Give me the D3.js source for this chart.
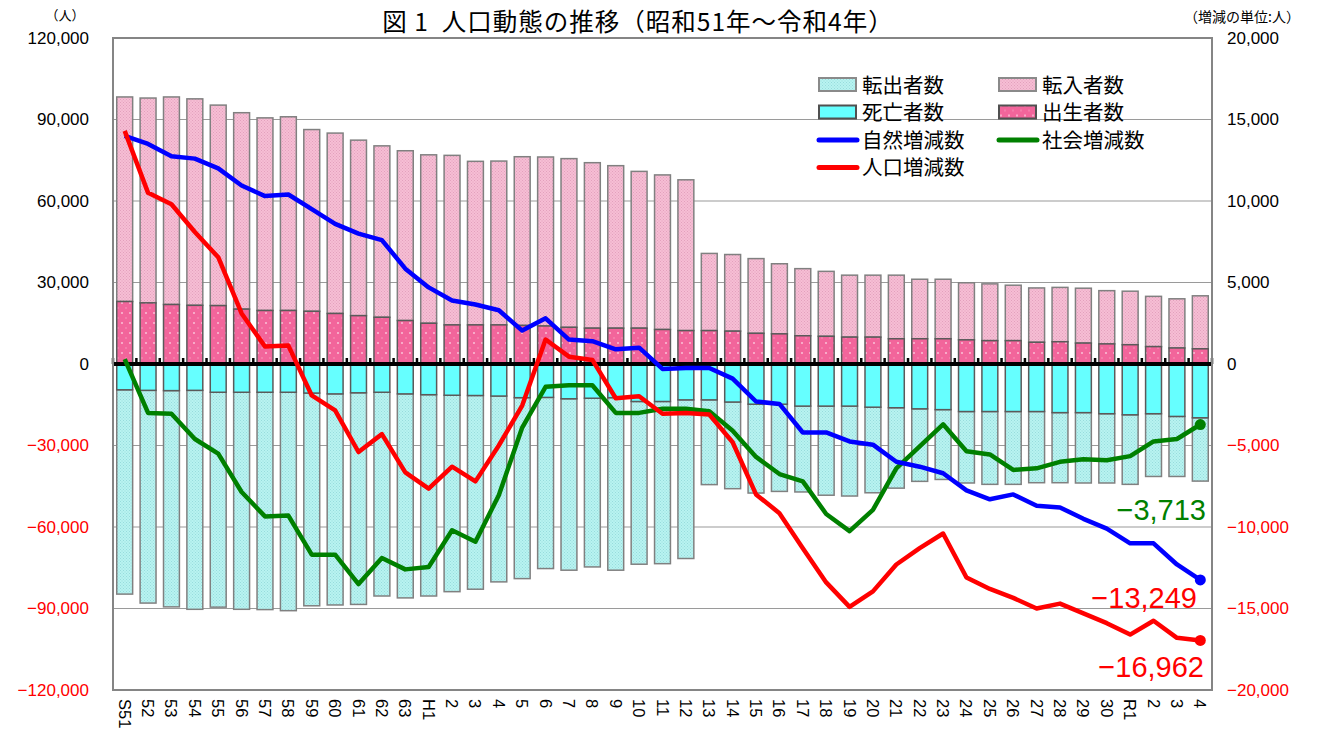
<!DOCTYPE html>
<html>
<head>
<meta charset="utf-8">
<script src="https://cdn.jsdelivr.net/npm/d3@7"></script>
<style>
  body { margin: 0; background: #fff; }
  svg text { font-family: "Liberation Sans", "Noto Sans CJK JP", sans-serif; }
  .jp { font-family: "Noto Sans CJK JP", sans-serif; }
</style>
</head>
<body>
<svg width="1318" height="729"></svg>
<script>
// 年（S51〜R4）
var years = ["S51","52","53","54","55","56","57","58","59","60","61","62","63",
  "H1","2","3","4","5","6","7","8","9","10","11","12","13","14","15","16","17","18","19","20",
  "21","22","23","24","25","26","27","28","29","30","R1","2","3","4"];

// 棒グラフ（人）
var births = [23000,22500,21900,21600,21500,20200,19700,19700,19400,18600,
  17800,17200,16000,15000,14400,14400,14400,14200,14000,13500,
  13200,13200,13200,12700,12300,12300,12100,11300,11100,10400,
  10200,9900,9900,9300,9300,9300,8900,8600,8600,8000,
  8200,7700,7400,7100,6400,5900,5600];
var inMove = [75300,75400,76400,76000,73800,72300,70900,71300,66900,66400,
  64600,63100,62500,62000,62400,60200,60300,62100,62200,62100,
  60900,59800,57700,56900,55500,28400,28200,27500,25800,24700,
  23900,22800,22800,23400,21900,21900,21000,20900,20400,20000,
  20000,20200,19600,19700,18500,18100,19500];
var deaths = [9500,9700,9800,9700,10400,10400,10400,10400,10700,11000,
  10600,10400,11000,11300,11500,11600,11800,12400,12300,12800,
  12600,12400,13800,13800,13200,13200,14000,14800,14800,15500,
  15500,15500,15900,16100,16500,16800,17500,17500,17500,17500,
  17900,17900,18300,18700,18300,19300,19800];
var outMove = [75200,78300,79600,80600,79100,79900,80000,80400,78300,77700,
  77900,75000,75100,74100,72300,71300,68400,66600,63000,63100,
  62100,63500,59900,59700,58400,31200,31900,32700,32100,31600,
  32800,33100,31500,29600,26700,25700,26300,26800,26800,26200,
  25800,25900,25500,25600,23100,22100,23300];

// 折れ線（右軸）
var natural = [14000,13500,12750,12600,12000,10950,10300,10400,9500,8600,
  8000,7600,5850,4700,3900,3650,3300,2050,2800,1500,
  1400,900,1000,-300,-250,-250,-900,-2300,-2450,-4200,
  -4200,-4750,-4950,-6000,-6300,-6700,-7750,-8300,-8000,-8700,
  -8800,-9500,-10100,-11000,-11000,-12300,-13249];
var social = [300,-3000,-3050,-4600,-5500,-7850,-9350,-9300,-11700,-11700,
  -13500,-11900,-12600,-12450,-10200,-10900,-8050,-3900,-1400,-1300,
  -1300,-3000,-3000,-2750,-2750,-2900,-4100,-5700,-6750,-7200,
  -9200,-10250,-8950,-6400,-5050,-3700,-5350,-5550,-6500,-6400,
  -6000,-5850,-5900,-5650,-4750,-4600,-3713];
var population = [14300,10500,9800,8100,6550,3100,1070,1130,-1930,-2850,
  -5400,-4300,-6650,-7650,-6300,-7200,-5000,-2550,1500,450,
  250,-2100,-1980,-3050,-3000,-3100,-4800,-8000,-9150,-11300,
  -13400,-14900,-13950,-12300,-11300,-10400,-13100,-13800,-14350,-15000,
  -14700,-15300,-15900,-16600,-15750,-16800,-16962];

var leftTicks = [120000,90000,60000,30000,0,-30000,-60000,-90000,-120000];
var rightTicks = [20000,15000,10000,5000,0,-5000,-10000,-15000,-20000];

var plot = {left: 113, right: 1212, top: 38, bottom: 690};

var svg = d3.select("svg");
var fmt = d3.format(",");

var x = d3.scaleBand().domain(d3.range(years.length))
    .range([plot.left, plot.right]).paddingInner(0.32).paddingOuter(0.16);
var y = d3.scaleLinear().domain([-120000, 120000]).range([plot.bottom, plot.top]);
var y2 = d3.scaleLinear().domain([-20000, 20000]).range([plot.bottom, plot.top]);

// patterns
var defs = svg.append("defs");
function dotPattern(id, base, dot, size, r) {
  var p = defs.append("pattern").attr("id", id).attr("patternUnits", "userSpaceOnUse")
    .attr("width", size).attr("height", size);
  p.append("rect").attr("width", size).attr("height", size).attr("fill", base);
  p.append("rect").attr("x", 0).attr("y", 0).attr("width", r).attr("height", r).attr("fill", dot);
  p.append("rect").attr("x", size / 2).attr("y", size / 2).attr("width", r).attr("height", r).attr("fill", dot);
}
dotPattern("pInMove", "#f6bed4", "#e3a0bd", 3, 1);
dotPattern("pOutMove", "#b8f3f1", "#97dcdc", 3, 1);
var pb = defs.append("pattern").attr("id", "pBirths").attr("patternUnits", "userSpaceOnUse")
  .attr("width", 8).attr("height", 10);
pb.append("rect").attr("width", 8).attr("height", 10).attr("fill", "#f2659b");
pb.append("circle").attr("cx", 2).attr("cy", 3).attr("r", 1).attr("fill", "#fbc0d6");
pb.append("circle").attr("cx", 6).attr("cy", 8).attr("r", 0.8).attr("fill", "#f89bbd");

// grid
svg.append("g").selectAll("line").data(leftTicks.filter(function(d) { return d !== 0; }))
  .enter().append("line")
  .attr("x1", plot.left).attr("x2", plot.right)
  .attr("y1", function(d) { return y(d); }).attr("y2", function(d) { return y(d); })
  .attr("stroke", "#9a9a9a").attr("stroke-width", 1.2);

// bars
var bars = svg.append("g").attr("stroke", "#808080").attr("stroke-width", 1.5);
bars.selectAll(".inm").data(inMove).enter().append("rect")
  .attr("x", function(d, i) { return x(i); }).attr("width", x.bandwidth())
  .attr("y", function(d, i) { return y(births[i] + d); })
  .attr("height", function(d, i) { return y(births[i]) - y(births[i] + d); })
  .attr("fill", "url(#pInMove)");
bars.selectAll(".bir").data(births).enter().append("rect")
  .attr("x", function(d, i) { return x(i); }).attr("width", x.bandwidth())
  .attr("y", function(d) { return y(d); })
  .attr("height", function(d) { return y(0) - y(d); })
  .attr("fill", "url(#pBirths)").attr("stroke", "#5a5a5a");
bars.selectAll(".outm").data(outMove).enter().append("rect")
  .attr("x", function(d, i) { return x(i); }).attr("width", x.bandwidth())
  .attr("y", function(d, i) { return y(-deaths[i]); })
  .attr("height", function(d, i) { return y(-deaths[i] - d) - y(-deaths[i]); })
  .attr("fill", "url(#pOutMove)");
bars.selectAll(".dea").data(deaths).enter().append("rect")
  .attr("x", function(d, i) { return x(i); }).attr("width", x.bandwidth())
  .attr("y", y(0))
  .attr("height", function(d) { return y(-d) - y(0); })
  .attr("fill", "#66ffff").attr("stroke", "#5a5a5a");

// zero line with ticks
svg.append("line").attr("x1", plot.left).attr("x2", plot.right)
  .attr("y1", y(0)).attr("y2", y(0)).attr("stroke", "#000").attr("stroke-width", 4);
svg.append("g").selectAll("line").data(d3.range(years.length + 1)).enter().append("line")
  .attr("x1", function(i) { return plot.left + i * x.step(); })
  .attr("x2", function(i) { return plot.left + i * x.step(); })
  .attr("y1", y(0) - 6).attr("y2", y(0))
  .attr("stroke", "#000").attr("stroke-width", 2.5);

// plot frame
svg.append("rect").attr("x", plot.left).attr("y", plot.top)
  .attr("width", plot.right - plot.left).attr("height", plot.bottom - plot.top)
  .attr("fill", "none").attr("stroke", "#858585").attr("stroke-width", 2);

// lines
var cx = function(i) { return x(i) + x.bandwidth() / 2; };
var line = d3.line().x(function(d, i) { return cx(i); }).y(function(d) { return y2(d); });
var series = [
  {name: "社会増減数", values: social, color: "#008000"},
  {name: "自然増減数", values: natural, color: "#0000ff"},
  {name: "人口増減数", values: population, color: "#ff0000"}
];
series.forEach(function(s) {
  svg.append("path").datum(s.values).attr("d", line)
    .attr("fill", "none").attr("stroke", s.color).attr("stroke-width", 4.5)
    .attr("stroke-linejoin", "round");
  var last = s.values.length - 1;
  svg.append("circle").attr("cx", cx(last)).attr("cy", y2(s.values[last])).attr("r", 5.5)
    .attr("fill", s.color);
});

// end labels
var ends = [
  {v: social[social.length - 1], color: "#008000", x: 1206, y: 520},
  {v: natural[natural.length - 1], color: "#ff0000", x: 1197, y: 608},
  {v: population[population.length - 1], color: "#ff0000", x: 1204, y: 677}
];
svg.append("g").selectAll("text").data(ends).enter().append("text")
  .attr("x", function(d) { return d.x; }).attr("y", function(d) { return d.y; })
  .attr("text-anchor", "end").attr("font-size", 29)
  .attr("fill", function(d) { return d.color; })
  .text(function(d) { return fmt(d.v); });

// axes
var leftAxis = d3.axisLeft(y).tickValues(leftTicks).tickSize(0).tickPadding(24).tickFormat(fmt);
var gL = svg.append("g").attr("transform", "translate(" + plot.left + ",0)").call(leftAxis);
var rightAxis = d3.axisRight(y2).tickValues(rightTicks).tickSize(0).tickPadding(15).tickFormat(fmt);
var gR = svg.append("g").attr("transform", "translate(" + plot.right + ",0)").call(rightAxis);
[gL, gR].forEach(function(g) {
  g.select(".domain").remove();
  g.selectAll("text").attr("font-size", 17)
    .attr("font-family", "Liberation Sans, sans-serif")
    .attr("fill", function(d) { return d < 0 ? "#ff0000" : "#000"; });
});

// x labels
svg.append("g").selectAll("text").data(years).enter().append("text")
  .attr("transform", function(d, i) { return "translate(" + (cx(i) - 6) + ",699) rotate(90)"; })
  .attr("font-size", 16.5).attr("fill", "#000")
  .text(function(d) { return d; });

// titles
svg.append("text").attr("class", "jp").attr("x", 638).attr("y", 31)
  .attr("text-anchor", "middle").attr("font-size", 24.5).attr("fill", "#000")
  .attr("letter-spacing", 1).style("white-space", "pre")
  .text("図 1  人口動態の推移（昭和51年～令和4年）");
svg.append("text").attr("class", "jp").attr("x", 65).attr("y", 20)
  .attr("text-anchor", "middle").attr("font-size", 13).text("（人）");
svg.append("text").attr("class", "jp").attr("x", 1242).attr("y", 22)
  .attr("text-anchor", "middle").attr("font-size", 14).text("（増減の単位:人）");

// legend
var legendItems = [
  {label: "転出者数", type: "rect", fill: "url(#pOutMove)", stroke: "#8a8a8a", col: 0, row: 0},
  {label: "転入者数", type: "rect", fill: "url(#pInMove)", stroke: "#8a8a8a", col: 1, row: 0},
  {label: "死亡者数", type: "rect", fill: "#66ffff", stroke: "#505050", col: 0, row: 1},
  {label: "出生者数", type: "rect", fill: "url(#pBirths)", stroke: "#505050", col: 1, row: 1},
  {label: "自然増減数", type: "line", fill: "#0000ff", col: 0, row: 2},
  {label: "社会増減数", type: "line", fill: "#008000", col: 1, row: 2},
  {label: "人口増減数", type: "line", fill: "#ff0000", col: 0, row: 3}
];
var lg = svg.append("g").selectAll("g").data(legendItems).enter().append("g")
  .attr("transform", function(d) { return "translate(" + (819 + d.col * 180) + "," + (85 + d.row * 27.5) + ")"; });
lg.filter(function(d) { return d.type === "rect"; }).append("rect")
  .attr("x", 0).attr("y", -7).attr("width", 37).attr("height", 13)
  .attr("fill", function(d) { return d.fill; })
  .attr("stroke", function(d) { return d.stroke; }).attr("stroke-width", 2);
lg.filter(function(d) { return d.type === "line"; }).append("line")
  .attr("x1", 0).attr("x2", 38).attr("y1", 0).attr("y2", 0)
  .attr("stroke", function(d) { return d.fill; }).attr("stroke-width", 5)
  .attr("stroke-linecap", "round");
lg.append("text").attr("class", "jp").attr("x", 43).attr("y", 7.5)
  .attr("font-size", 20.5).attr("fill", "#000")
  .text(function(d) { return d.label; });
</script>
</body>
</html>
